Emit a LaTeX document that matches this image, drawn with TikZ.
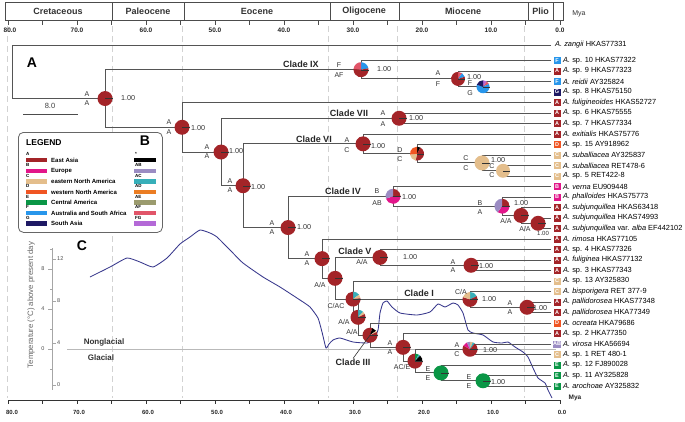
\documentclass[tikz,border=0pt]{standalone}
\usepackage{fontspec}
\setmainfont{Liberation Sans}
\usetikzlibrary{calc}
\definecolor{cA}{RGB}{163,36,40}
\definecolor{cB}{RGB}{226,22,138}
\definecolor{cC}{RGB}{228,190,140}
\definecolor{cD}{RGB}{240,85,35}
\definecolor{cE}{RGB}{10,150,70}
\definecolor{cF}{RGB}{40,150,235}
\definecolor{cG}{RGB}{30,25,100}
\definecolor{cAB}{RGB}{155,140,195}
\definecolor{cAC}{RGB}{55,175,185}
\definecolor{cAD}{RGB}{235,125,35}
\definecolor{cAE}{RGB}{155,155,110}
\definecolor{cAF}{RGB}{225,85,105}
\definecolor{cFG}{RGB}{180,105,215}
\definecolor{treec}{RGB}{85,85,85}
\definecolor{curvec}{RGB}{55,55,140}
\newcommand{\mypie}[3]{%
  \gdef\pieang{90}%
  \foreach \pp/\cc in {#3}{%
    \pgfmathsetmacro\pieend{\pieang-3.6*\pp}%
    \fill[\cc] (#1) -- ++(\pieang:#2) arc[start angle=\pieang, end angle=\pieend, radius=#2] -- cycle;
    \xdef\pieang{\pieend}%
  }%
  \draw[black!80, line width=0.35pt] (#1) -- ++(0:#2);
}
\begin{document}
\begin{tikzpicture}[x=1pt,y=-1pt,
  branch/.style={draw=treec, line width=0.9pt},
  tiplab/.style={anchor=west, font=\fontsize{7.4}{8}\selectfont, inner sep=0pt},
  badge/.style={minimum width=7pt, minimum height=7pt, inner sep=0.3pt, text=white, font=\fontsize{5.5}{6}\selectfont\bfseries},
  nl/.style={font=\fontsize{7}{7}\selectfont, text=black!80, inner sep=0pt},
  pp/.style={font=\fontsize{7.2}{8}\selectfont, text=black!80, inner sep=0pt, anchor=west},
  clade/.style={font=\fontsize{9}{10}\selectfont\bfseries, text=black!85, inner sep=0pt},
  period/.style={font=\fontsize{9}{10}\selectfont\bfseries, text=black!80, inner sep=0pt},
  axlab/.style={font=\fontsize{6.5}{7}\selectfont\bfseries, text=black!85, inner sep=0pt},
  leglab/.style={font=\fontsize{6}{7}\selectfont\bfseries, anchor=west, inner sep=0pt},
  legkey/.style={font=\fontsize{4.5}{5}\selectfont\bfseries, anchor=west, inner sep=0pt},
  panel/.style={font=\fontsize{14}{15}\selectfont\bfseries, inner sep=0pt},
  gridl/.style={draw=gray!35, dash pattern=on 6pt off 4pt, line width=0.6pt}]
\useasboundingbox (0,0) rectangle (685,421);
\fill[white] (0,0) rectangle (685,421);

% period grid lines
\foreach \x in {7,112,182,328,397,524}{\draw[gridl] (\x,26) -- (\x,398);}

% period boxes
\draw[black!70, line width=0.7pt] (5,2) rectangle (563,20);
\foreach \x in {112,184,330,399,528,553}{\draw[black!70, line width=0.7pt] (\x,2) -- (\x,20);}
\node[period] (pCr) at (58,11) {Cretaceous};
\node[period] (pPa) at (148,11) {Paleocene};
\node[period] (pEo) at (257,11) {Eocene};
\node[period] (pOl) at (364,11) {Oligocene};
\node[period] (pMi) at (463,11) {Miocene};
\node[period] (pPl) at (540.5,11) {Plio};
\node[font=\fontsize{7}{8}\selectfont, text=black!80] (myaT) at (579,14) {Mya};
\foreach \t in {0,5,...,80}{\draw[black!70, line width=0.6pt] ({560-6.9*\t},20) -- ({560-6.9*\t},25);}
\foreach \t/\s in {80/80.0,70/70.0,60/60.0,50/50.0,40/40.0,30/30.0,20/20.0,10/10.0,0/0.0}{
  \node[axlab] at ({max(560-6.9*\t,10)},30) {\s};}

% bottom axis
\draw[black!80, line width=0.8pt] (8,400) -- (560,400);
\foreach \t in {0,5,...,80}{\draw[black!80, line width=0.6pt] ({560-6.9*\t},400) -- ({560-6.9*\t},404);}
\foreach \t/\s in {80/80.0,70/70.0,60/60.0,50/50.0,40/40.0,30/30.0,20/20.0,10/10.0,0/0.0}{
  \node[axlab, font=\fontsize{6}{7}\selectfont\bfseries] at ({max(562-6.9*\t,12)},412) {\s};}
\node[axlab] (myaB) at (575,398) {Mya};

% temperature panel
\draw[gray!55, line width=0.6pt] (67,349) -- (556,349);
\draw[gray!70, line width=0.6pt] (52,248) -- (52,390);
\foreach \y/\s in {259/12,301/8,343/4,385/0}{
  \draw[gray!70, line width=0.6pt] (52,\y) -- (56,\y);
  \node[font=\fontsize{5.5}{6}\selectfont, text=black!70, anchor=west, inner sep=0pt] at (57,\y) {\s};}
\foreach \y/\s in {269/8,309/4,349/0}{
  \draw[gray!70, line width=0.6pt] (48,\y) -- (52,\y);
  \node[font=\fontsize{5.5}{6}\selectfont, text=black!70, inner sep=0pt] at (43,\y) {\s};}
\foreach \y in {249,289,329,369}{\draw[gray!70, line width=0.5pt] (50,\y) -- (52,\y);}
\node[rotate=90, font=\fontsize{7.8}{8}\selectfont, text=black!60] (ylab) at (31,305) {Temperature (°C) above present day};
\node[font=\fontsize{8}{9}\selectfont\bfseries, text=black!80] (nongl) at (104,342) {Nonglacial};
\node[font=\fontsize{8}{9}\selectfont\bfseries, text=black!80] (glac) at (101,358) {Glacial};
\draw[curvec, line width=0.85pt] plot[smooth, tension=0.3] coordinates {
(90,277) (110,267) (127,258) (140,262) (153,267) (167,258) (180,244) (190,237) (200,230) (210,233) (217,237) (230,250) (243,263) (263,277) (280,287) (300,300) (310,307) (318,318) (322,332) (326,348) (329,344) (333,340) (340,338) (353,342) (367,343) (373,340) (378,330) (380,313) (383,303) (387,301) (392,307) (400,313) (417,315) (430,312) (438,304) (445,307) (453,303) (458,305) (463,313) (468,330) (473,333) (483,335) (493,342) (502,343) (508,342) (515,347) (523,352) (528,357) (533,368) (538,378) (545,383) (548,390) (552,398)};

% tips
\coordinate (t0) at (551,45);
\node[tiplab] (lab0) at (555,45) {\textit{A. zangii} HKAS77331};
\foreach \i/\c/\l/\t in {
1/cF/F/{\textit{A.} sp. 10 HKAS77322},
2/cA/A/{\textit{A.} sp. 9 HKAS77323},
3/cF/F/{\textit{A. reidii} AY325824},
4/cG/G/{\textit{A.} sp. 8 HKAS75150},
5/cA/A/{\textit{A. fuligineoides} HKAS52727},
6/cA/A/{\textit{A.} sp. 6 HKAS75555},
7/cA/A/{\textit{A.} sp. 7 HKAS77334},
8/cA/A/{\textit{A. exitialis} HKAS75776},
9/cD/D/{\textit{A.} sp. 15 AY918962},
10/cC/C/{\textit{A. suballiacea} AY325837},
11/cC/C/{\textit{A. suballiacea} RET478-6},
12/cC/C/{\textit{A.} sp. 5 RET422-8},
13/cB/B/{\textit{A. verna} EU909448},
14/cB/B/{\textit{A. phalloides} HKAS75773},
15/cA/A/{\textit{A. subjunquillea} HKAS63418},
16/cA/A/{\textit{A. subjunquillea} HKAS74993},
17/cA/A/{\textit{A. subjunquillea} var. \textit{alba} EF442102},
18/cA/A/{\textit{A. rimosa} HKAS77105},
19/cA/A/{\textit{A.} sp. 4 HKAS77326},
20/cA/A/{\textit{A. fuliginea} HKAS77132},
21/cA/A/{\textit{A.} sp. 3 HKAS77343},
22/cC/C/{\textit{A.} sp. 13 AY325830},
23/cC/C/{\textit{A. bisporigera} RET 377-9},
24/cA/A/{\textit{A. pallidorosea} HKAS77348},
25/cA/A/{\textit{A. pallidorosea} HKA77349},
26/cD/D/{\textit{A. ocreata} HKA79686},
27/cA/A/{\textit{A.} sp. 2 HKA77350},
28/cAB/AB/{\textit{A. virosa} HKA56694},
29/cC/C/{\textit{A.} sp. 1 RET 480-1},
30/cE/E/{\textit{A.} sp. 12 FJ890028},
31/cE/E/{\textit{A.} sp. 11 AY325828},
32/cE/E/{\textit{A. arochoae} AY325832}}{
  \coordinate (t\i) at (551,{50+10.5*\i});
  \node[badge, fill=\c] (b\i) at (557,{50+10.5*\i}) {\l};
  \node[tiplab] (lab\i) at (563,{50+10.5*\i}) {\t};
}

% internal nodes
\coordinate (root) at (12,71.75);
\coordinate (n1) at (105,98.5);
\coordinate (cIX) at (361,69.7);
\coordinate (nAF) at (458,78.9);
\coordinate (nFG) at (483,86.75);
\coordinate (n2) at (182,127.25);
\coordinate (n3) at (221,152);
\coordinate (cVII) at (399,118.25);
\coordinate (n4) at (243,185.7);
\coordinate (cVI) at (363,143.8);
\coordinate (nDC) at (417,153.7);
\coordinate (nCC) at (482,162.9);
\coordinate (nC2) at (503,170.75);
\coordinate (n5) at (288,227.5);
\coordinate (cIV) at (393,196.3);
\coordinate (nBA) at (502,206.2);
\coordinate (nAA1) at (521,215.4);
\coordinate (nAA2) at (538,223.25);
\coordinate (n6) at (322,258.6);
\coordinate (n7) at (335,278.3);
\coordinate (cV) at (380,257.4);
\coordinate (nV2) at (471,265.25);
\coordinate (n8) at (353,299.1);
\coordinate (n9) at (358,317.3);
\coordinate (cI) at (470,299.4);
\coordinate (nPA) at (527,307.25);
\coordinate (n10) at (370,335.2);
\coordinate (n11) at (403,347.3);
\coordinate (n12) at (415,361.1);
\coordinate (nACx) at (470,349.25);
\coordinate (n13) at (441,372.9);
\coordinate (n14) at (483,380.75);

\foreach \c/\p in {t0/root,n1/root,cIX/n1,n2/n1,t1/cIX,nAF/cIX,t2/nAF,nFG/nAF,t3/nFG,t4/nFG,
 t5/n2,n3/n2,cVII/n3,n4/n3,t6/cVII,t7/cVII,cVI/n4,n5/n4,t8/cVI,nDC/cVI,t9/nDC,nCC/nDC,
 t10/nCC,nC2/nCC,t11/nC2,t12/nC2,cIV/n5,n6/n5,t13/cIV,nBA/cIV,t14/nBA,nAA1/nBA,t15/nAA1,
 nAA2/nAA1,t16/nAA2,t17/nAA2,t18/n6,n7/n6,cV/n7,n8/n7,t19/cV,nV2/cV,t20/nV2,t21/nV2,
 t22/n8,n9/n8,cI/n9,n10/n9,t23/cI,nPA/cI,t24/nPA,t25/nPA,t26/n10,n11/n10,t27/n11,n12/n11,
 nACx/n12,n13/n12,t28/nACx,t29/nACx,t30/n13,n14/n13,t31/n14,t32/n14}{
  \draw[branch] (\c) -| (\p);
}

% pies
\foreach \n in {n1,n2,n3,n4,n5,n6,n7,cVII,cVI,nAA1,nAA2,cV,nV2,nPA,n11}{\mypie{\n}{7.5pt}{100/cA}}
\mypie{cIX}{7.5pt}{22/cF,55/cA,23/cAF}
\mypie{nAF}{7pt}{10/cAF,10/cF,80/cA}
\mypie{nFG}{6.5pt}{10/cFG,8/cAF,62/cF,20/cG}
\mypie{nDC}{7pt}{8/black,45/cA,20/cC,27/cD}
\mypie{nCC}{7.5pt}{100/cC}
\mypie{nC2}{7pt}{100/cC}
\mypie{cIV}{7.5pt}{25/cA,45/cB,30/cAB}
\mypie{nBA}{7.5pt}{25/cA,35/cB,40/cAB}
\mypie{n8}{7.5pt}{15/cAC,8/cC,77/cA}
\mypie{n9}{7.5pt}{12/cAC,6/cC,82/cA}
\mypie{n10}{7.5pt}{5/cA,10/black,3/cC,82/cA}
\mypie{n12}{7.5pt}{8/cE,4/cAC,15/black,73/cA}
\mypie{n13}{7.5pt}{100/cE}
\mypie{n14}{7.5pt}{100/cE}
\mypie{nACx}{7.5pt}{6/cC,5/cAC,72/cA,10/cB,7/cAB}
\mypie{cI}{7.5pt}{18/cAC,62/cA,20/cC}

% node labels
\foreach \x/\y/\s in {87/94/A,87/103.5/A,169/122.5/A,169/132/A,207/147.5/A,207/156.5/A,
 230/181/A,230/190/A,272/223/A,272/232/A,307/254/A,307/263/A,320/285/{A/A},336/306/{C/AC},
 344/322/{A/A},352/332/{A/A},390/343/A,390/352/A,402/367/{AC/E},428/369/E,428/378/E,
 469/377/E,469/386/E,457/345/A,457/354/C,461/292/{C/A},510/303/A,510/312/A,
 362/262/{A/A},453/262/A,453/270/A,377/191/B,377/203/AB,480/203/B,480/212/A,
 506/221/{A/A},525/229/{A/A},347/140/A,347/150/C,400/150/D,400/159/C,466/158/C,466/168/C,
 492/166/C,492/175/C,383/113/A,383/124/A,339/65/F,339/75/AF,438/73/A,438/84/F,470/83/F,470/93/G}{
  \node[nl] at (\x,\y) {\s};}
\foreach \x/\y in {121/98.5,191/128,229/151,251/187,297/227,491/382,483/350,482/299,533/308,
 403/257,479/266,402/197,514/203,371/146,491/160,409/118,377/69,467/77}{
  \node[pp] at (\x,\y) {1.00};}
\node[pp, font=\fontsize{6}{7}\selectfont] at (537,233) {1.00};

% clade labels
\node[clade] (lIX) at (301,64) {Clade IX};
\node[clade] (lVII) at (349,113) {Clade VII};
\node[clade] (lVI) at (314,139) {Clade VI};
\node[clade] (lIV) at (343,191) {Clade IV};
\node[clade] (lV) at (355,251.5) {Clade V};
\node[clade] (lI) at (419,293) {Clade I};
\node[clade] (lIII) at (353,362) {Clade III};
\draw[black!80, line width=0.6pt] (lIII.north) -- (n10);

% panel letters, scale bar
\node[panel] (pA) at (32,63) {A};
\draw[black!70, line width=0.8pt] (23,114) coordinate (sb1) -- (78,114) coordinate (sb2);
\node[font=\fontsize{7.5}{8}\selectfont, text=black!75] (sbl) at (50,106) {8.0};
\node[panel] (pC) at (82,246) {C};

% legend
\node[draw=black!60, line width=0.8pt, rounded corners=5pt, fill=white, minimum width=144pt, minimum height=100pt, anchor=north west, inner sep=0pt] (legend) at (18,132) {};
\node[font=\fontsize{8.5}{9}\selectfont\bfseries, anchor=west, inner sep=0pt] (legt) at (26,143) {LEGEND};
\node[panel] (pB) at (145,141) {B};
\foreach \y/\l/\c/\t in {160/A/cA/East Asia,171/B/cB/Europe,181.5/C/cC/eastern North America,
 192/D/cD/western North America,202.5/E/cE/Central America,213/F/cF/Australia and South Africa,223.5/G/cG/South Asia}{
  \node[legkey] at (26,\y-6) {\l};
  \fill[\c] (26,\y-2.2) rectangle (47,\y+2.2);
  \node[leglab] at (51,\y) {\t};}
\foreach \y/\l/\c in {160/{*}/black,171/AB/cAB,181.5/AC/cAC,192/AD/cAD,202.5/AE/cAE,213/AF/cAF,223.5/FG/cFG}{
  \node[legkey] at (135,\y-6) {\l};
  \fill[\c] (134,\y-2.2) rectangle (156,\y+2.2);}
\end{tikzpicture}
\end{document}
